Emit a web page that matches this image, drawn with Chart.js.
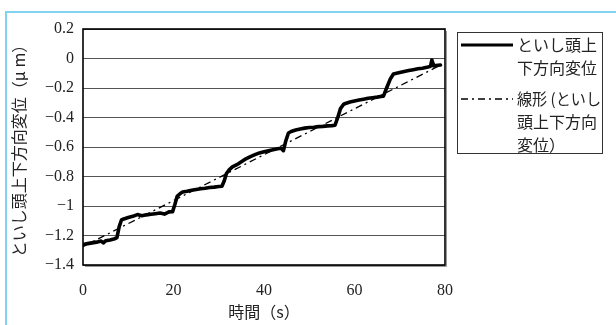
<!DOCTYPE html>
<html>
<head>
<meta charset="utf-8">
<script src="https://cdn.jsdelivr.net/npm/chart.js@4"></script>
<style>
  html, body { margin: 0; padding: 0; background: #fff; }
  #wrap { position: relative; width: 616px; height: 325px; overflow: hidden; }
  #frame { position: absolute; left: 5px; top: 11px; width: 700px; height: 400px;
           border-top: 2px solid #82d2f2; border-left: 2px solid #82d2f2; }
  canvas { position: absolute; left: 0; top: 0; }
</style>
</head>
<body>
<div id="wrap">
  <div id="frame"></div>
  <canvas id="myChart" width="616" height="325"></canvas>
</div>
<script>
// measured series: time (s) and wheel head vertical displacement (um)
const time = [0, 1, 2, 3, 4, 4.5, 5, 6, 7, 7.5, 8, 8.5, 9, 10, 11, 12, 13, 14, 15, 16, 17, 18, 19, 19.8,
  20.3, 20.8, 21.5, 22, 23, 24, 25, 26, 27, 28, 29, 30, 30.7, 31.2, 31.7, 32.3, 33, 34, 35, 36, 37, 38,
  39, 40, 41, 42, 43, 43.8, 44.3, 44.8, 45.4, 46, 47, 48, 49, 50, 51, 52, 53, 54, 55, 55.7, 56.3, 56.9,
  57.6, 58, 59, 60, 61, 62, 63, 64, 65, 65.8, 66.4, 67.1, 67.9, 68.6, 70, 71, 72, 73, 74, 75, 76, 76.8,
  77.1, 77.5, 78, 79];
const displacement = [-1.262, -1.255, -1.250, -1.245, -1.238, -1.250, -1.236, -1.230, -1.222, -1.215,
  -1.140, -1.095, -1.088, -1.078, -1.070, -1.058, -1.066, -1.060, -1.056, -1.052, -1.048, -1.055, -1.040,
  -1.038, -0.990, -0.935, -0.915, -0.905, -0.900, -0.893, -0.888, -0.883, -0.880, -0.875, -0.872, -0.868,
  -0.866, -0.830, -0.780, -0.755, -0.735, -0.720, -0.700, -0.680, -0.665, -0.652, -0.640, -0.632, -0.625,
  -0.618, -0.612, -0.608, -0.625, -0.560, -0.505, -0.495, -0.485, -0.478, -0.472, -0.468, -0.466, -0.462,
  -0.460, -0.457, -0.455, -0.452, -0.400, -0.340, -0.310, -0.305, -0.295, -0.288, -0.282, -0.276, -0.270,
  -0.266, -0.262, -0.258, -0.255, -0.200, -0.140, -0.105, -0.095, -0.088, -0.082, -0.076, -0.070, -0.066,
  -0.060, -0.052, -0.010, -0.050, -0.048, -0.044];
// linear fit end points
const fitTime = [0, 79];
const fitDisplacement = [-1.275, -0.045];

const seriesLabels = ['といし頭上下方向変位', '線形（といし頭上下方向変位）'];
const legendLines = [['といし頭上', '下方向変位'], ['線形 (といし', '頭上下方向', '変位）']];

const serif = "'Liberation Serif', 'DejaVu Serif', serif";
const cjk = "'Noto Sans CJK JP', sans-serif";

const frameAndLegend = {
  id: 'frameAndLegend',
  afterDraw(chart) {
    const { ctx, chartArea: a } = chart;
    ctx.save();
    // plot frame
    ctx.strokeStyle = '#999';
    ctx.lineWidth = 1;
    ctx.beginPath();
    ctx.moveTo(a.right + 1.5, a.top + 2);
    ctx.lineTo(a.right + 1.5, a.bottom + 1.5);
    ctx.lineTo(a.left + 2, a.bottom + 1.5);
    ctx.stroke();
    ctx.strokeStyle = '#000';
    ctx.lineWidth = 1.6;
    ctx.strokeRect(a.left, a.top, a.right - a.left, a.bottom - a.top);

    // legend box
    const bx = 457, by = 32, bw = 145, bh = 121;
    ctx.strokeStyle = '#333';
    ctx.lineWidth = 1;
    ctx.strokeRect(bx + 0.5, by + 0.5, bw, bh);
    ctx.fillStyle = '#222';
    ctx.font = '16px ' + cjk;
    ctx.textBaseline = 'middle';
    const rows = [45, 99];
    chart.data.datasets.forEach((ds, i) => {
      const y = rows[i];
      ctx.strokeStyle = '#000';
      ctx.lineWidth = i === 0 ? 3 : 1.3;
      ctx.setLineDash(i === 0 ? [] : [7, 4, 2, 4]);
      ctx.beginPath();
      ctx.moveTo(461, y);
      ctx.lineTo(513, y);
      ctx.stroke();
      ctx.setLineDash([]);
      legendLines[i].forEach((t, k) => ctx.fillText(t, 517, y + k * 23, 84));
    });
    ctx.restore();
  }
};

new Chart(document.getElementById('myChart'), {
  type: 'line',
  data: {
    datasets: [
      {
        label: seriesLabels[0],
        data: time.map((t, i) => ({ x: t, y: displacement[i] })),
        borderColor: '#000',
        borderWidth: 3.6,
        borderJoinStyle: 'round',
        borderCapStyle: 'round',
        pointRadius: 0,
        tension: 0,
        order: 2
      },
      {
        label: seriesLabels[1],
        data: fitTime.map((t, i) => ({ x: t, y: fitDisplacement[i] })),
        borderColor: '#000',
        borderWidth: 1.3,
        borderDash: [7, 4, 2, 4],
        pointRadius: 0,
        order: 1
      }
    ]
  },
  options: {
    responsive: false,
    animation: false,
    layout: { padding: { left: 6, top: 29, right: 171, bottom: 0 } },
    plugins: { legend: { display: false }, tooltip: { enabled: false } },
    scales: {
      x: {
        type: 'linear',
        min: 0, max: 80,
        ticks: { stepSize: 20, padding: 16, color: '#222', font: { family: serif, size: 16 } },
        grid: { display: false, drawTicks: false },
        border: { display: false },
        title: { display: true, text: '時間（s）', color: '#222', font: { family: cjk, size: 16 }, padding: { top: 0, bottom: 3 } },
        afterFit: s => { s.height = 60; }
      },
      y: {
        min: -1.4, max: 0.2,
        ticks: {
          stepSize: 0.2, padding: 9, color: '#222', font: { family: serif, size: 16 },
          callback: v => String(parseFloat(v.toFixed(1))).replace('-', '\u2212')
        },
        grid: { color: '#555', lineWidth: 1, drawTicks: false },
        border: { display: false },
        title: { display: true, text: 'といし頭上下方向変位（μ m）', color: '#222', font: { family: cjk, size: 16 }, padding: { top: 3, bottom: 0 } },
        afterFit: s => { s.width = 77; }
      }
    }
  },
  plugins: [frameAndLegend]
});
</script>
</body>
</html>
